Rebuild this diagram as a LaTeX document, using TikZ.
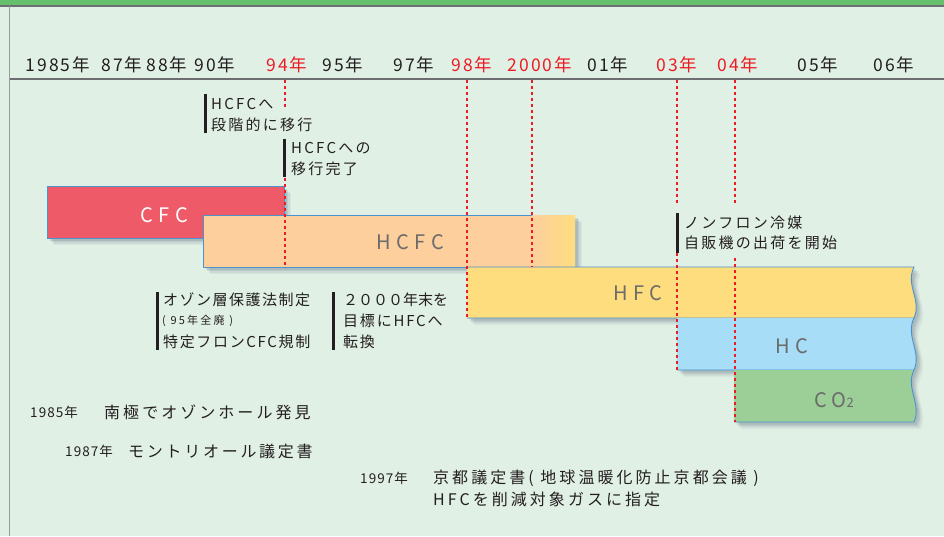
\documentclass[tikz,border=0pt]{standalone}
\usepackage{fontspec}
\setmainfont{Noto Sans CJK JP}
\usetikzlibrary{calc}
\definecolor{bgc}{HTML}{E1F0E5}
\definecolor{topgreen}{HTML}{66BF6D}
\definecolor{rulegray}{HTML}{6D6E71}
\definecolor{framegray}{HTML}{9A9A9A}
\definecolor{txt}{HTML}{231F20}
\definecolor{redc}{HTML}{ED1C24}
\definecolor{barblue}{HTML}{4A93CD}
\definecolor{cfcc}{HTML}{EF5A68}
\definecolor{hcfcc}{HTML}{FDCF9D}
\definecolor{hfcc}{HTML}{FEDD7F}
\definecolor{hcc}{HTML}{A7DDF7}
\definecolor{coc}{HTML}{9BCF97}
\definecolor{lblgray}{HTML}{6B6B6B}
\definecolor{shadowc}{HTML}{4A5A70}
\tikzset{
  yearlbl/.style={text=txt, inner sep=0pt, font={\fontsize{17.5}{18}\selectfont\addfontfeature{LetterSpace=11}}},
  yearred/.style={yearlbl, text=redc},
  barlbl/.style={text=lblgray, inner sep=0pt, font={\fontsize{20}{20}\selectfont\addfontfeature{LetterSpace=28}}},
  annot/.style={text=txt, inner sep=0pt, anchor=west, font={\fontsize{15}{15}\selectfont\addfontfeature{LetterSpace=15}}},
  annotsmall/.style={annot, font={\fontsize{11}{11}\selectfont\addfontfeature{LetterSpace=20}}},
  notebig/.style={text=txt, inner sep=0pt, anchor=west, font={\fontsize{16}{16}\selectfont\addfontfeature{LetterSpace=19}}},
  noteyear/.style={text=txt, inner sep=0pt, anchor=west, font={\fontsize{13.5}{14}\selectfont\addfontfeature{LetterSpace=8}}},
  markbar/.style={draw=txt, line width=3pt},
  reddash/.style={draw=redc, line width=2pt, dash pattern=on 3pt off 3pt},
  barline/.style={draw=barblue, line width=0.9pt},
}
\begin{document}
\begin{tikzpicture}[x=1pt,y=-1pt]
\useasboundingbox (0,0) rectangle (944,536);
% background and frame
\fill[bgc] (0,0) rectangle (944,536);
\fill[topgreen] (0,0) rectangle (944,5);
\draw[rulegray, line width=1.5pt] (0,5.8) -- (944,5.8);
\draw[framegray, line width=1pt] (9.5,6) -- (9.5,536);
\draw[rulegray, line width=1.2pt] (9.5,79) -- (944,79);

% axis labels
\node[yearlbl] (y85) at (58,65) {1985年};
\node[yearlbl] (y87) at (122,65) {87年};
\node[yearlbl] (y88) at (167,65) {88年};
\node[yearlbl] (y90) at (215,65) {90年};
\node[yearred] (y94) at (287,65) {94年};
\node[yearlbl] (y95) at (343,65) {95年};
\node[yearlbl] (y97) at (414,65) {97年};
\node[yearred] (y98) at (472,65) {98年};
\node[yearred] (y00) at (540,65) {2000年};
\node[yearlbl] (y01) at (608,65) {01年};
\node[yearred] (y03) at (677,65) {03年};
\node[yearred] (y04) at (738,65) {04年};
\node[yearlbl] (y05) at (818,65) {05年};
\node[yearlbl] (y06) at (894,65) {06年};

% shadows
\foreach \d/\op in {7/0.06,5.5/0.09,4/0.12,2.5/0.14}{
  \begin{scope}[shift={(\d,\d)}]
    \fill[shadowc, opacity=\op] (47,186) rectangle (284,238);
    \fill[shadowc, opacity=\op] (203,215) rectangle (575,267);
    \fill[shadowc, opacity=\op] (467,267) -- (914,267) .. controls (905,285) and (922,300) .. (914,318) -- (467,318) -- cycle;
    \fill[shadowc, opacity=\op] (677,318) -- (914,318) .. controls (905,336) and (922,352) .. (914,370) -- (677,370) -- cycle;
    \fill[shadowc, opacity=\op] (734,370) -- (914,370) .. controls (905,388) and (922,404) .. (914,422) -- (734,422) -- cycle;
  \end{scope}
}

% CFC bar
\fill[cfcc] (47,186) rectangle (284,238);
\draw[barline] (47,186) rectangle (284,238);
% HCFC bar
\fill[hcfcc] (203,215) rectangle (532.5,267);
\shade[left color=hcfcc, right color=hfcc] (532,215) rectangle (575,267);
\draw[barline] (532,215) -- (203,215) -- (203,267) -- (532,267);
% HFC bar
\fill[hfcc] (467,267) -- (914,267) .. controls (905,285) and (922,300) .. (914,318) -- (467,318) -- cycle;
\draw[barline] (467,267) -- (914,267) .. controls (905,285) and (922,300) .. (914,318) -- (467,318);
% HC bar
\fill[hcc] (677,318) -- (914,318) .. controls (905,336) and (922,352) .. (914,370) -- (677,370) -- cycle;
\draw[barline] (914,318) .. controls (905,336) and (922,352) .. (914,370) -- (677,370);
% CO2 bar
\fill[coc] (734,370) -- (914,370) .. controls (905,388) and (922,404) .. (914,422) -- (734,422) -- cycle;
\draw[barline] (914,370) .. controls (905,388) and (922,404) .. (914,422) -- (734,422);

% bar labels
\node[barlbl, text=white] (cfc) at (164,215) {CFC};
\node[barlbl] (hcfc) at (410,242) {HCFC};
\node[barlbl] (hfc) at (638,293) {HFC};
\node[barlbl] (hc) at (792,346) {HC};
\node[barlbl] (co2) at (834,400) {CO{\fontsize{13}{13}\selectfont 2}};

% dashed year lines
\coordinate (d94a) at (285,80);  \coordinate (d94b) at (285,108);
\coordinate (d94c) at (285,178); \coordinate (d94d) at (285,268);
\coordinate (d98a) at (467,80);  \coordinate (d98b) at (467,318);
\coordinate (d00a) at (532,80);  \coordinate (d00b) at (532,267);
\coordinate (d03a) at (677,80);  \coordinate (d03b) at (677,205);
\coordinate (d03c) at (677,253); \coordinate (d03d) at (677,370);
\coordinate (d04a) at (735,80);  \coordinate (d04b) at (735,203);
\coordinate (d04c) at (735,258); \coordinate (d04d) at (735,422);
\draw[reddash] (d94a) -- (d94b);
\draw[reddash] (d94c) -- (d94d);
\draw[reddash] (d98a) -- (d98b);
\draw[reddash] (d00a) -- (d00b);
\draw[reddash] (d03a) -- (d03b);
\draw[reddash] (d03c) -- (d03d);
\draw[reddash] (d04a) -- (d04b);
\draw[reddash] (d04c) -- (d04d);

% annotations with marker bars
\coordinate (m1a) at (205,94);  \coordinate (m1b) at (205,133);
\draw[markbar] (m1a) -- (m1b);
\node[annot] (a1l1) at (211,104) {HCFCへ};
\node[annot] (a1l2) at (211,125) {段階的に移行};

\coordinate (m2a) at (284,139); \coordinate (m2b) at (284,177);
\draw[markbar] (m2a) -- (m2b);
\node[annot] (a2l1) at (291,148) {HCFCへの};
\node[annot] (a2l2) at (291,169) {移行完了};

\coordinate (m3a) at (677,213); \coordinate (m3b) at (677,253);
\draw[markbar] (m3a) -- (m3b);
\node[annot] (a3l1) at (684,223) {ノンフロン冷媒};
\node[annot] (a3l2) at (684,243) {自販機の出荷を開始};

\coordinate (m4a) at (157,292); \coordinate (m4b) at (157,350);
\draw[markbar] (m4a) -- (m4b);
\node[annot, font={\fontsize{15}{15}\selectfont\addfontfeature{LetterSpace=10}}] (a4l1) at (163,300) {オゾン層保護法制定};
\node[annotsmall] (a4l2) at (162,321) {( 95年全廃 )};
\node[annot, font={\fontsize{15}{15}\selectfont\addfontfeature{LetterSpace=11}}] (a4l3) at (163,342) {特定フロンCFC規制};

\coordinate (m5a) at (333,292); \coordinate (m5b) at (333,350);
\draw[markbar] (m5a) -- (m5b);
\node[annot, font={\fontsize{15}{15}\selectfont}] (a5l1) at (343,300) {２０００年末を};
\node[annot, font={\fontsize{15}{15}\selectfont\addfontfeature{LetterSpace=12}}] (a5l2) at (343,321) {目標にHFCへ};
\node[annot, font={\fontsize{15}{15}\selectfont\addfontfeature{LetterSpace=12}}] (a5l3) at (343,342) {転換};

% bottom notes
\node[noteyear] (n1y) at (30,412) {1985年};
\node[notebig] (n1t) at (104,412) {南極でオゾンホール発見};
\node[noteyear] (n2y) at (65,451) {1987年};
\node[notebig, font={\fontsize{16}{16}\selectfont\addfontfeature{LetterSpace=17}}] (n2t) at (128,451) {モントリオール議定書};
\node[noteyear] (n3y) at (360,478) {1997年};
\node[notebig] (n3t) at (433,478) {京都議定書( 地球温暖化防止京都会議 )};
\node[notebig] (n3u) at (433,499) {HFCを削減対象ガスに指定};
\end{tikzpicture}
\end{document}
